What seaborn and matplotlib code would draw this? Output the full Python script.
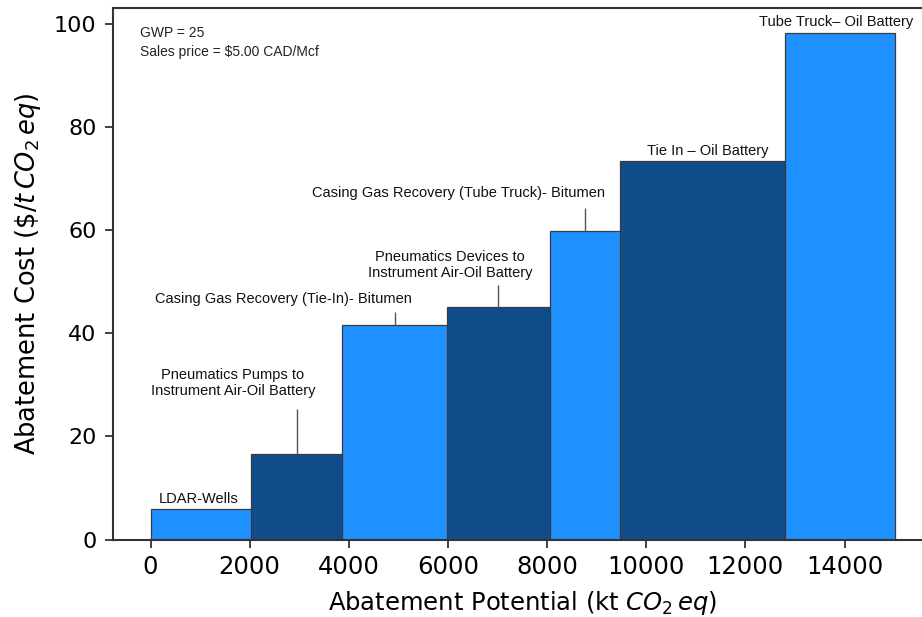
import numpy as np
import pandas as pd
import matplotlib
matplotlib.use("Agg")
import matplotlib.pyplot as plt
import seaborn as sns

# Mitigation measures ordered by abatement cost
measures = [
    "LDAR-Wells",
    "Pneumatics Pumps to\nInstrument Air-Oil Battery",
    "Casing Gas Recovery (Tie-In)- Bitumen",
    "Pneumatics Devices to\nInstrument Air-Oil Battery",
    "Casing Gas Recovery (Tube Truck)- Bitumen",
    "Tie In \u2013 Oil Battery",
    "Tube Truck\u2013 Oil Battery",
]
# Abatement potential of each measure (kt CO2 eq)
potential = [2030, 1841, 2110, 2069, 1425, 3333, 2205]
# Abatement cost of each measure ($/t CO2 eq)
cost = [5.9, 16.6, 41.7, 45.2, 59.8, 73.4, 98.3]
tone = ["light", "dark", "light", "dark", "light", "dark", "light"]

# Label placement (data coords) and leader-line tops (None = no leader)
label_x = [974, 1663, 2681, 6044, 6209, 11239, 13826]
label_y = [7.9, 30.3, 46.6, 53.3, 67.2, 75.4, 100.4]
leader_top = [None, 25.3, 44.2, 49.4, 64.4, None, None]

edges = [0.0] + [float(v) for v in np.cumsum(potential)]
mids = [(a + b) / 2 for a, b in zip(edges[:-1], edges[1:])]
df = pd.DataFrame({"mid": mids, "cost": cost, "tone": tone})

sns.set_style("ticks")
plt.rcParams["font.family"] = ["DejaVu Sans"]

fig = plt.figure(figsize=(9.22, 6.17), dpi=100)
ax = fig.add_axes([113.3 / 922, 77.5 / 617, 818.7 / 922, 532 / 617])

sns.histplot(
    data=df, x="mid", weights="cost", bins=edges, hue="tone",
    palette={"light": "#1E90FF", "dark": "#104E8B"},
    multiple="layer", alpha=1, legend=False, ax=ax,
    edgecolor="#3a3a3a", linewidth=0.9,
)

for i, name in enumerate(measures):
    ax.text(label_x[i], label_y[i], name, ha="center", va="center",
            fontsize=10.5, family="Liberation Sans", color="#111111",
            linespacing=1.2)
    if leader_top[i] is not None:
        ax.vlines(mids[i], cost[i], leader_top[i], color="#555555", lw=1.0)

ax.text(0.033, 0.9515, "GWP = 25", transform=ax.transAxes, ha="left",
        va="center", fontsize=10, family="Liberation Sans", color="#222222")
ax.text(0.033, 0.917, "Sales price = $5.00 CAD/Mcf", transform=ax.transAxes,
        ha="left", va="center", fontsize=10, family="Liberation Sans",
        color="#222222")

ax.set_xticks(np.arange(0, 14001, 2000))
ax.set_yticks(np.arange(0, 101, 20))
ax.tick_params(length=6, width=1.2, color="#222222", labelcolor="black")
ax.tick_params(axis="x", labelsize=17.5, pad=5.5)
ax.tick_params(axis="y", labelsize=16, pad=6)
ax.set_xlabel(r"Abatement Potential (kt $CO_2\,eq$)", fontsize=17.5,
              color="black", labelpad=7)
ax.set_ylabel(r"Abatement Cost ($\$/t\,CO_2\,eq$)", fontsize=18.5,
              color="black", labelpad=8)
for s in ax.spines.values():
    s.set_color("#333333")
    s.set_linewidth(1.5)

fig.savefig("out.png", dpi=100)
